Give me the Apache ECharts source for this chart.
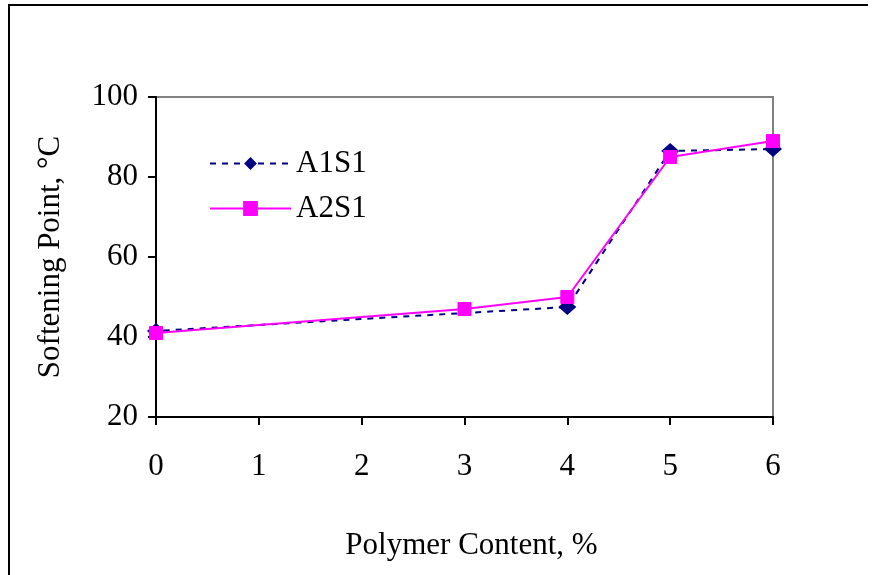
<!DOCTYPE html>
<html>
<head>
<meta charset="utf-8">
<script src="https://cdn.jsdelivr.net/npm/echarts@6/dist/echarts.min.js"></script>
<style>
html,body{margin:0;padding:0;background:#fff;}
#chart{width:874px;height:575px;}
</style>
</head>
<body>
<div id="chart"></div>
<script>
// Data
var xTicks = [0, 1, 2, 3, 4, 5, 6];
var yTicks = [20, 40, 60, 80, 100];
var seriesNames = ['A1S1', 'A2S1'];
// leading point (drawn without marker) where the lines start left of the axis
var a1s1X = [-0.15, 0, 4, 5, 6];
var a1s1Y = [40.2, 41.5, 47.5, 86.5, 87];
var a2s1X = [-0.15, 0, 3, 4, 5, 6];
var a2s1Y = [40.2, 41, 47, 50, 85, 89];

function items(xs, ys) {
  return xs.map(function (x, i) {
    var it = {value: [x, ys[i]]};
    if (x < 0) it.symbol = 'none';
    return it;
  });
}

var FONT = 'Liberation Serif';
var FS = 31;
var chart = echarts.init(document.getElementById('chart'), null, {renderer: 'canvas'});
chart.setOption({
  animation: false,
  backgroundColor: '#fff',
  textStyle: {fontFamily: FONT, color: '#000'},
  graphic: [
    {type: 'line', shape: {x1: 9, y1: 5, x2: 9, y2: 575}, style: {stroke: '#000', lineWidth: 2}},
    {type: 'line', shape: {x1: 8, y1: 5, x2: 868, y2: 5}, style: {stroke: '#000', lineWidth: 2}}
  ],
  grid: {left: 156, right: 101, top: 97, bottom: 158, show: true, borderColor: '#808080', borderWidth: 2, backgroundColor: '#fff'},
  legend: {
    orient: 'vertical', left: 209, top: 148, padding: 0, itemWidth: 81, itemHeight: 16, itemGap: 14,
    textStyle: {fontFamily: FONT, fontSize: FS, color: '#000', padding: 0},
    data: seriesNames
  },
  xAxis: {
    type: 'value', min: xTicks[0], max: xTicks[xTicks.length - 1], interval: 1,
    name: 'Polymer Content, %', nameLocation: 'middle', nameGap: 113,
    nameTextStyle: {fontFamily: FONT, fontSize: FS, color: '#000', padding: [0, 0, 0, 14]},
    axisLine: {show: true, onZero: false, lineStyle: {color: '#000', width: 2}},
    axisTick: {show: true, length: 8, lineStyle: {color: '#000', width: 2}},
    axisLabel: {fontFamily: FONT, fontSize: FS, color: '#000', margin: 34},
    splitLine: {show: false}
  },
  yAxis: {
    type: 'value', min: yTicks[0], max: yTicks[yTicks.length - 1], interval: 20,
    name: 'Softening Point, °C', nameLocation: 'middle', nameGap: 90, nameRotate: 90,
    nameTextStyle: {fontFamily: FONT, fontSize: FS, color: '#000'},
    axisLine: {show: true, lineStyle: {color: '#000', width: 2}},
    axisTick: {show: true, length: 8, lineStyle: {color: '#000', width: 2}},
    axisLabel: {fontFamily: FONT, fontSize: FS, color: '#000', margin: 18},
    splitLine: {show: false}
  },
  series: [
    {
      name: seriesNames[0], type: 'line', data: items(a1s1X, a1s1Y), clip: false,
      symbol: 'diamond', symbolSize: [18, 16],
      itemStyle: {color: '#000080'},
      lineStyle: {color: '#000080', width: 2, type: [6, 6]},
      z: 2
    },
    {
      name: seriesNames[1], type: 'line', data: items(a2s1X, a2s1Y), clip: false,
      symbol: 'rect', symbolSize: 13,
      itemStyle: {color: '#FF00FF', borderColor: '#FF00FF', borderWidth: 1},
      lineStyle: {color: '#FF00FF', width: 2, type: 'solid'},
      z: 3
    }
  ]
});
</script>
</body>
</html>
